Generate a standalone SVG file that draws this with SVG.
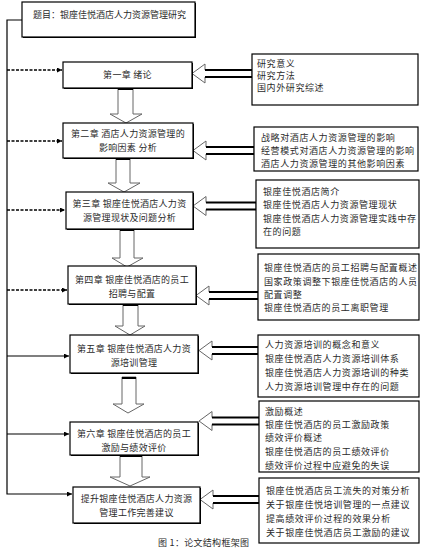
<svg xmlns="http://www.w3.org/2000/svg" width="429" height="551" viewBox="0 0 429 551">
<style>
text{font-family:"Noto Sans CJK SC","Liberation Serif",sans-serif;font-size:9px;fill:#2a2a2a;dominant-baseline:central}
.c{text-anchor:middle;letter-spacing:0.3px}
.r{letter-spacing:0.6px}
.box{fill:#fff;stroke:#000;stroke-width:1.2}
.sh{fill:#000}
.da{stroke:#000;stroke-width:1.6;stroke-dasharray:3,1.5;fill:none}
.so{stroke:#000;stroke-width:1.2;fill:none}
.blk{fill:#fff;stroke:#666;stroke-width:1}
.thk{stroke:#000;stroke-width:2}
</style>
<defs>
<marker id="ah" viewBox="0 0 6 6" refX="6" refY="3" markerWidth="5" markerHeight="5" orient="auto" markerUnits="userSpaceOnUse">
<path d="M0,0 L6,3 L0,6 z" fill="#000"/>
</marker>
</defs>
<rect width="429" height="551" fill="#fff"/>

<g id="connectors">
<path class="so" d="M22,20 H7 V494 H72" marker-end="url(#ah)"/>
<path class="da" d="M7,70 H62" marker-end="url(#ah)"/>
<path class="da" d="M7,141 H62" marker-end="url(#ah)"/>
<path class="da" d="M7,210 H65" marker-end="url(#ah)"/>
<path class="da" d="M7,290 H67" marker-end="url(#ah)"/>
<path class="so" d="M7,356 H69" marker-end="url(#ah)"/>
<path class="so" d="M7,434 H69" marker-end="url(#ah)"/>
<!-- down block arrows -->
<polygon class="blk" points="118,88 133,88 133,114 142,114 126,123 110,114 118,114"/>
<line class="thk" x1="118" y1="89" x2="133" y2="89"/>
<polygon class="blk" points="116,158 130,158 130,183 140,183 124,192 108,183 116,183"/>
<line class="thk" x1="116" y1="159" x2="130" y2="159"/>
<polygon class="blk" points="120,229 134,229 134,258 143,258 127,267 112,258 120,258"/>
<line class="thk" x1="120" y1="230" x2="134" y2="230"/>
<polygon class="blk" points="123,304 138,304 138,326 145,326 130,335 115,326 123,326"/>
<line class="thk" x1="123" y1="305" x2="138" y2="305"/>
<polygon class="blk" points="122,377 136,377 136,404 144,404 128,413 113,404 122,404"/>
<line class="thk" x1="122" y1="378" x2="136" y2="378"/>
<polygon class="blk" points="120,455 142,455 142,477 150,477 130,486 110,477 120,477"/>
<line class="thk" x1="120" y1="456" x2="142" y2="456"/>
<!-- left-pointing hollow arrows -->
<polygon class="blk" points="192,73.5 205,64 205,70 252,70 252,77 205,77 205,83"/>
<line class="thk" x1="205" y1="70" x2="252" y2="70"/><line class="thk" x1="205" y1="77" x2="252" y2="77"/>
<polygon class="blk" points="193,150.5 206,141 206,147 254,147 254,154 206,154 206,160"/>
<line class="thk" x1="206" y1="147" x2="254" y2="147"/><line class="thk" x1="206" y1="154" x2="254" y2="154"/>
<polygon class="blk" points="193,206 206,196.5 206,202.5 256,202.5 256,209.5 206,209.5 206,215.5"/>
<line class="thk" x1="206" y1="202.5" x2="256" y2="202.5"/><line class="thk" x1="206" y1="209.5" x2="256" y2="209.5"/>
<polygon class="blk" points="196,295.5 209,286 209,292 258,292 258,299 209,299 209,305"/>
<line class="thk" x1="209" y1="292" x2="258" y2="292"/><line class="thk" x1="209" y1="299" x2="258" y2="299"/>
<polygon class="blk" points="199,350.5 212,341 212,347 258,347 258,354 212,354 212,360"/>
<line class="thk" x1="212" y1="347" x2="258" y2="347"/><line class="thk" x1="212" y1="354" x2="258" y2="354"/>
<polygon class="blk" points="199,421 212,411.5 212,417.5 259,417.5 259,424.5 212,424.5 212,430.5"/>
<line class="thk" x1="212" y1="417.5" x2="259" y2="417.5"/><line class="thk" x1="212" y1="424.5" x2="259" y2="424.5"/>
<polygon class="blk" points="200,499.5 213,490 213,496 259,496 259,503 213,503 213,509"/>
<line class="thk" x1="213" y1="496" x2="259" y2="496"/><line class="thk" x1="213" y1="503" x2="259" y2="503"/>
</g>

<g id="title">
<rect class="sh" x="23" y="3" width="173" height="35"/>
<rect class="box" x="22" y="2" width="173" height="35"/>
<text x="33" y="14">题目：银座佳悦酒店人力资源管理研究</text>
</g>
<g id="ch1">
<rect class="sh" x="64" y="63" width="129" height="26"/>
<rect class="box" x="63" y="62" width="129" height="26"/>
<text class="c" x="127.5" y="74">第一章  绪论</text>
</g>
<g id="ch2">
<rect class="sh" x="64" y="124" width="130" height="35"/>
<rect class="box" x="63" y="123" width="130" height="35"/>
<text class="c" x="128" y="133">第二章  酒店人力资源管理的</text>
<text class="c" x="128" y="147">影响因素 分析</text>
</g>
<g id="ch3">
<rect class="sh" x="67" y="193" width="127" height="37"/>
<rect class="box" x="66" y="192" width="127" height="37"/>
<text class="c" x="129.5" y="203">第三章  银座佳悦酒店人力资</text>
<text class="c" x="129.5" y="217">源管理现状及问题分析</text>
</g>
<g id="ch4">
<rect class="sh" x="69" y="267" width="128" height="38"/>
<rect class="box" x="68" y="266" width="128" height="38"/>
<text class="c" x="132" y="279">第四章  银座佳悦酒店的员工</text>
<text class="c" x="132" y="293">招聘与配置</text>
</g>
<g id="ch5">
<rect class="sh" x="71" y="336" width="128" height="38"/>
<rect class="box" x="70" y="335" width="128" height="38"/>
<text class="c" x="134" y="348">第五章  银座佳悦酒店人力资</text>
<text class="c" x="134" y="362">源培训管理</text>
</g>
<g id="ch6">
<rect class="sh" x="71" y="423" width="128" height="33"/>
<rect class="box" x="70" y="422" width="128" height="33"/>
<text class="c" x="134" y="433">第六章  银座佳悦酒店的员工</text>
<text class="c" x="134" y="447">激励与绩效评价</text>
</g>
<g id="ch7">
<rect class="sh" x="74" y="488" width="127" height="36"/>
<rect class="box" x="73" y="487" width="127" height="36"/>
<text class="c" x="136.5" y="498">提升银座佳悦酒店人力资源</text>
<text class="c" x="136.5" y="512">管理工作完善建议</text>
</g>

<g id="r1">
<rect class="box" x="252" y="54" width="166" height="51"/>
<text class="r" x="257" y="63">研究意义</text>
<text class="r" x="257" y="75">研究方法</text>
<text class="r" x="257" y="87">国内外研究综述</text>
</g>
<g id="r2">
<rect class="box" x="254" y="127" width="164" height="44"/>
<text class="r" x="261" y="137">战略对酒店人力资源管理的影响</text>
<text class="r" x="261" y="150">经营模式对酒店人力资源管理的影响</text>
<text class="r" x="261" y="163">酒店人力资源管理的其他影响因素</text>
</g>
<g id="r3">
<rect class="box" x="256" y="180" width="163" height="68"/>
<text class="r" x="263" y="191">银座佳悦酒店简介</text>
<text class="r" x="263" y="204">银座佳悦酒店人力资源管理现状</text>
<text class="r" x="263" y="218">银座佳悦酒店人力资源管理实践中存</text>
<text class="r" x="263" y="231">在的问题</text>
</g>
<g id="r4">
<rect class="box" x="258" y="254" width="161" height="66"/>
<text class="r" x="264" y="267">银座佳悦酒店的员工招聘与配置概述</text>
<text class="r" x="264" y="281">国家政策调整下银座佳悦酒店的人员</text>
<text class="r" x="264" y="294">配置调整</text>
<text class="r" x="264" y="307">银座佳悦酒店的员工离职管理</text>
</g>
<g id="r5">
<rect class="box" x="258" y="335" width="161" height="62"/>
<text class="r" x="265" y="344">人力资源培训的概念和意义</text>
<text class="r" x="265" y="358">银座佳悦酒店人力资源培训体系</text>
<text class="r" x="265" y="372">银座佳悦酒店人力资源培训的种类</text>
<text class="r" x="265" y="386">人力资源培训管理中存在的问题</text>
</g>
<g id="r6">
<rect class="box" x="259" y="401" width="160" height="71"/>
<text class="r" x="265" y="411">激励概述</text>
<text class="r" x="265" y="424">银座佳悦酒店的员工激励政策</text>
<text class="r" x="265" y="437">绩效评价概述</text>
<text class="r" x="265" y="451">银座佳悦酒店的员工绩效评价</text>
<text class="r" x="265" y="465">绩效评价过程中应避免的失误</text>
</g>
<g id="r7">
<rect class="box" x="259" y="478" width="160" height="65"/>
<text class="r" x="266" y="490">银座佳悦酒店员工流失的对策分析</text>
<text class="r" x="266" y="504">关于银座佳悦培训管理的一点建议</text>
<text class="r" x="266" y="518">提高绩效评价过程的效果分析</text>
<text class="r" x="266" y="532">关于银座佳悦酒店员工激励的建议</text>
</g>

<text x="158" y="542" style="letter-spacing:0.3px">图 1：论文结构框架图</text>
</svg>
